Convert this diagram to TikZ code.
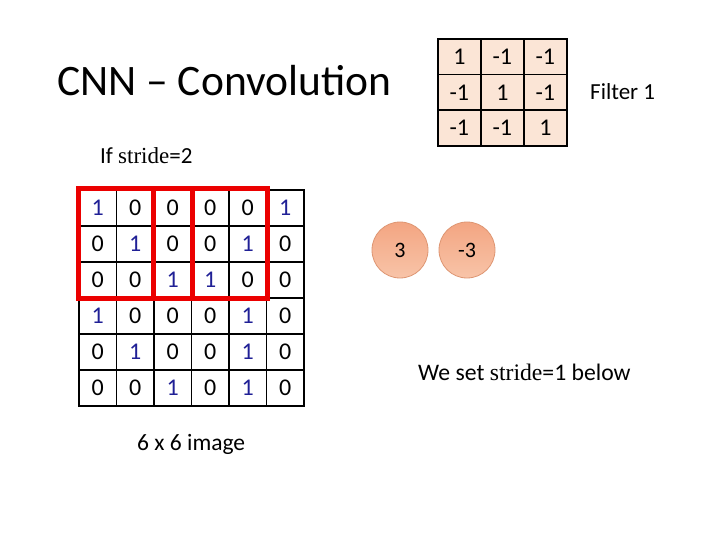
\documentclass[tikz,border=0pt]{standalone}
\usepackage{fontspec}
\setmainfont{Carlito}
\newfontfamily\strfont{Liberation Serif}
\definecolor{onecol}{RGB}{32,32,150}
\definecolor{filtfill}{RGB}{251,229,214}
\definecolor{circdraw}{RGB}{222,150,115}
\definecolor{circtop}{RGB}{243,165,130}
\definecolor{circbot}{RGB}{248,196,168}
\definecolor{winred}{RGB}{235,0,0}
\tikzset{
  gcell/.style={draw=black,line width=1.8pt,minimum width=37.5pt,minimum height=36pt,inner sep=0pt,anchor=north west,font=\fontsize{24}{24}\selectfont},
  fcell/.style={draw=black,line width=1.8pt,fill=filtfill,minimum width=43pt,minimum height=35.7pt,inner sep=0pt,anchor=north west,font=\fontsize{24}{24}\selectfont},
  circ/.style={circle,draw=circdraw,line width=0.8pt,top color=circtop,bottom color=circbot,minimum size=56pt,inner sep=0pt,font=\fontsize{22}{22}\selectfont},
  lbl/.style={inner sep=0pt,anchor=base west},
  win/.style={draw=winred,line width=5pt}
}
\begin{document}
\begin{tikzpicture}[x=1pt,y=-1pt]
\useasboundingbox (0,0) rectangle (720,540);
\fill[white] (0,0) rectangle (720,540);
% title
\node[lbl,font=\fontsize{43.5}{43.5}\selectfont] (title) at (57,96) {CNN -- Convolution};
\node[lbl,font=\fontsize{23}{23}\selectfont] (ifs) at (100,164) {If {\strfont stride}=2};
% image grid
\foreach \r/\row in {0/{1,0,0,0,0,1},1/{0,1,0,0,1,0},2/{0,0,1,1,0,0},3/{1,0,0,0,1,0},4/{0,1,0,0,1,0},5/{0,0,1,0,1,0}}{
  \foreach \v [count=\c from 0] in \row {
    \ifnum\v=1
      \node[gcell,text=onecol] (g-\r-\c) at (78+37.5*\c,189+36*\r) {\v};
    \else
      \node[gcell,text=black] (g-\r-\c) at (78+37.5*\c,189+36*\r) {\v};
    \fi
  }
}
% stride windows
\draw[win] (g-0-0.north west) rectangle (g-2-2.south east);
\draw[win] (g-0-2.north west) rectangle (g-2-4.south east);
\node[lbl,font=\fontsize{23.5}{23.5}\selectfont] (cap) at (137,450) {6 x 6 image};
% filter
\foreach \r/\row in {0/{1,-1,-1},1/{-1,1,-1},2/{-1,-1,1}}{
  \foreach \v [count=\c from 0] in \row {
    \node[fcell] (f-\r-\c) at (437+43*\c,38+35.7*\r) {\v};
  }
}
\node[lbl,font=\fontsize{23}{23}\selectfont] (flab) at (590,100) {Filter 1};
% results
\node[circ] (c1) at (400,250) {3};
\node[circ] (c2) at (467,250) {-3};
\node[lbl,font=\fontsize{23.7}{23.7}\selectfont] (note) at (418,380) {We set {\strfont stride}=1 below};
\end{tikzpicture}
\end{document}
